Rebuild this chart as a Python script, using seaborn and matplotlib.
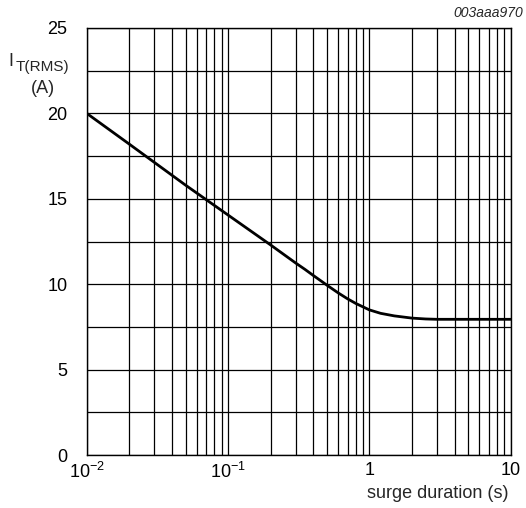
import numpy as np
import pandas as pd
import seaborn as sns
import matplotlib.pyplot as plt
from matplotlib.ticker import FixedLocator, NullFormatter

# values
surge_duration = [0.01, 0.02, 0.05, 0.1, 0.2, 0.3, 0.35, 0.4, 0.45, 0.5, 0.6, 0.7, 0.8,
                  1.0, 1.2, 1.5, 2.0, 2.5, 3.0, 5.0, 10.0]
i_rms = [20.0, 18.2, 15.8, 14.05, 12.3, 11.25, 10.87, 10.52, 10.22, 9.95, 9.5, 9.15, 8.88,
         8.5, 8.3, 8.15, 8.02, 7.97, 7.95, 7.95, 7.95]

y_ticks = [0, 5, 10, 15, 20, 25]
x_ticks = [0.01, 0.1, 1, 10]
x_tick_labels = ['$10^{-2}$', '$10^{-1}$', '1', '10']

sns.set_style("white")
plt.rcParams['font.family'] = ['Liberation Sans', 'DejaVu Sans']
plt.rcParams['mathtext.fontset'] = 'custom'
plt.rcParams['mathtext.rm'] = 'Liberation Sans'
plt.rcParams['mathtext.it'] = 'Liberation Sans:italic'

df = pd.DataFrame({'t': surge_duration, 'i': i_rms})

fig = plt.figure(figsize=(5.26, 5.08), dpi=100)
ax = fig.add_axes([0.165, 0.104, 0.806, 0.841])

sns.lineplot(data=df, x='t', y='i', color='black', linewidth=2.0, ax=ax)

ax.set_xscale('log')
ax.set_xlim(0.01, 10)
ax.set_ylim(0, 25)

ax.xaxis.set_major_locator(FixedLocator(x_ticks))
minor_x = [m * 10.0 ** e for e in (-2, -1, 0) for m in range(2, 10)]
ax.xaxis.set_minor_locator(FixedLocator(minor_x))
ax.xaxis.set_minor_formatter(NullFormatter())
ax.set_xticklabels(x_tick_labels)

ax.set_yticks(y_ticks)
ax.set_yticks(np.arange(0, 25.1, 2.5), minor=True)

ax.grid(True, which='both', color='black', linewidth=0.9)
ax.tick_params(which='both', length=0, labelsize=13, colors='black')
ax.tick_params(axis='x', pad=5)
ax.tick_params(axis='y', pad=14)
for s in ax.spines.values():
    s.set_color('black')
    s.set_linewidth(1.0)

ax.set_xlabel('')
ax.set_ylabel('')

fig.text(0.966, 0.012, 'surge duration (s)', ha='right', va='bottom', fontsize=13)
fig.text(0.015, 0.878, 'I', ha='left', va='center', fontsize=13)
fig.text(0.030, 0.869, 'T(RMS)', ha='left', va='center', fontsize=11)
fig.text(0.082, 0.826, '(A)', ha='center', va='center', fontsize=13)
fig.text(0.995, 0.975, '003aaa970', ha='right', va='center', fontsize=10, style='italic')

fig.savefig('out.png', dpi=100)
